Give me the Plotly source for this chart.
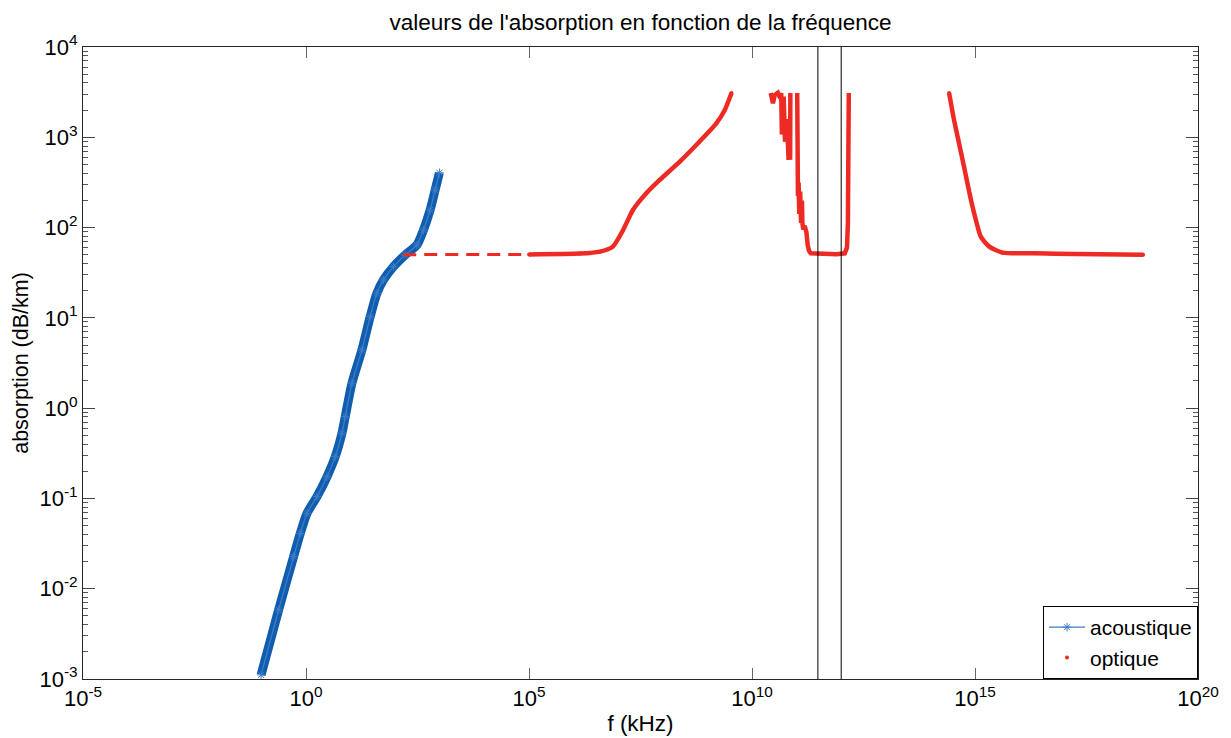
import numpy as np
import plotly.graph_objects as go

# ---- data (log10 of values) ----
# acoustic absorption: log10 f (kHz), log10 absorption (dB/km)
acou_logf = [-1.007, -0.613, -0.278, -0.128, 0.022, 0.246, 0.470, 0.656, 0.806, 0.880, 1.030,
             1.254, 1.439, 1.589, 1.737, 1.961, 2.223, 2.485, 2.633, 2.783, 2.895, 2.991]
acou_loga = [-2.955, -2.233, -1.645, -1.387, -1.165, -0.980, -0.760, -0.537, -0.278, -0.094, 0.276,
             0.645, 1.013, 1.272, 1.420, 1.567, 1.697, 1.807, 1.973, 2.195, 2.416, 2.607]

# optical absorption, sparse low-frequency plateau
opt1_logf = [2.18, 5.0]
opt1_loga = [1.70, 1.703]

# optical absorption, smooth parts (None = no data / above 3000 dB/km)
opt2_logf = [5.0, 6.14, 6.59, 6.88, 7.11, 7.33, 7.63, 7.93, 8.38, 8.82, 9.20, 9.39, 9.54,
             None,
             14.42, 14.53, 14.69, 14.80, 14.91, 15.02, 15.13, 15.32, 15.62, 16.36, 17.26, 18.77]
opt2_loga = [1.703, 1.712, 1.733, 1.789, 1.973, 2.195, 2.38, 2.527, 2.73, 2.951, 3.155, 3.302, 3.49,
             None,
             3.49, 3.192, 2.823, 2.564, 2.306, 2.084, 1.899, 1.789, 1.722, 1.715, 1.708, 1.70]

# optical absorption, jagged part between 1e10 and 1e13 kHz
opt3_logf = [10.42, 10.47, 10.51, 10.58, 10.63, 10.655, 10.67, 10.71, 10.74, 10.77, 10.80, 10.82,
             10.83, 10.855, 10.86,
             None,
             11.014, 11.02, 11.03, 11.045, 11.06, 11.08, 11.10, 11.12, 11.13, 11.15, 11.18, 11.22,
             11.25, 11.28, 11.32, 11.6, 11.9, 12.08, 12.13, 12.15, 12.165, 12.17]
opt3_loga = [3.49, 3.377, 3.468, 3.494, 3.435, 3.49, 3.03, 3.45, 2.95, 3.20, 3.007, 2.75,
             3.0, 2.75, 3.49,
             None,
             3.49, 2.53, 2.35, 2.50, 2.15, 2.40, 2.05, 2.30, 2.05, 1.98, 2.02, 1.95,
             1.80, 1.74, 1.715, 1.71, 1.705, 1.715, 1.78, 2.05, 2.6, 3.49]

# vertical markers (kHz)
band_f = [3e11, 1e12]
y_span = [1e-3, 1e4]

x_tickvals = [1e-5, 1e0, 1e5, 1e10, 1e15, 1e20]
x_ticktext = ['10<sup>-5</sup>', '10<sup>0</sup>', '10<sup>5</sup>', '10<sup>10</sup>',
              '10<sup>15</sup>', '10<sup>20</sup>']
y_tickvals = [1e-3, 1e-2, 1e-1, 1e0, 1e1, 1e2, 1e3, 1e4]
y_ticktext = ['10<sup>-3</sup>', '10<sup>-2</sup>', '10<sup>-1</sup>', '10<sup>0</sup>',
              '10<sup>1</sup>', '10<sup>2</sup>', '10<sup>3</sup>', '10<sup>4</sup>']


def pw(v):
    return [None if a is None else 10 ** a for a in v]


BLUE = '#105DB0'
RED = '#EE2A24'
FONT = 'Liberation Sans, Arial, sans-serif'

fig = go.Figure()

# acoustic: thick band + thin legend line with star markers
fig.add_trace(go.Scatter(x=pw(acou_logf), y=pw(acou_loga), mode='lines',
                         line=dict(color=BLUE, width=9, shape='spline', smoothing=0.7),
                         showlegend=False, hoverinfo='skip'))
fig.add_trace(go.Scatter(x=pw(acou_logf), y=pw(acou_loga), mode='lines+markers', name='acoustique',
                         line=dict(color='#3E7DC4', width=1.3, shape='spline', smoothing=0.7),
                         marker=dict(symbol='asterisk-open', size=7, color='#3E7DC4',
                                     line=dict(color='#3E7DC4', width=1))))

# optical
fig.add_trace(go.Scatter(x=pw(opt1_logf), y=pw(opt1_loga), mode='lines',
                         line=dict(color=RED, width=3, dash='13px,8px'),
                         showlegend=False, hoverinfo='skip'))
fig.add_trace(go.Scatter(x=pw(opt2_logf), y=pw(opt2_loga), mode='lines',
                         line=dict(color=RED, width=4.5, shape='spline', smoothing=0.6),
                         showlegend=False, hoverinfo='skip', connectgaps=False))
fig.add_trace(go.Scatter(x=pw(opt3_logf), y=pw(opt3_loga), mode='lines',
                         line=dict(color=RED, width=4.5),
                         showlegend=False, hoverinfo='skip', connectgaps=False))
fig.add_trace(go.Scatter(x=pw(opt2_logf), y=pw(opt2_loga), mode='markers', name='optique',
                         marker=dict(symbol='circle', size=4, color=RED)))

for f in band_f:
    fig.add_trace(go.Scatter(x=[f, f], y=y_span, mode='lines',
                             line=dict(color='black', width=1),
                             showlegend=False, hoverinfo='skip'))

minor_y = [m * 10.0 ** e for e in range(-3, 4) for m in range(2, 10)]

fig.update_layout(
    width=1231, height=738,
    margin=dict(l=83, r=33, t=47, b=59),
    paper_bgcolor='white', plot_bgcolor='white',
    font=dict(family=FONT, size=22, color='black'),
    title=dict(text="valeurs de l'absorption en fonction de la fréquence",
               x=0.5, xref='paper', xanchor='center', y=0.97, yref='container', yanchor='middle',
               font=dict(size=22.5)),
    showlegend=True,
    legend=dict(x=1, y=0, xanchor='right', yanchor='bottom', bordercolor='black', borderwidth=1,
                bgcolor='white', font=dict(size=21), itemwidth=36, tracegroupgap=0),
    xaxis=dict(type='log', range=[-5, 20], tickmode='array', tickvals=x_tickvals, ticktext=x_ticktext,
               ticks='inside', ticklen=11, tickcolor='#666', showline=True, linecolor='#262626',
               linewidth=1, mirror='ticks', showgrid=False, zeroline=False, automargin=False,
               tickfont=dict(size=22),
               title=dict(text='f (kHz)', standoff=4, font=dict(size=22.5))),
    yaxis=dict(type='log', range=[-3, 4], tickmode='array', tickvals=y_tickvals, ticktext=y_ticktext,
               ticks='inside', ticklen=12, tickcolor='#444', showline=True, linecolor='#262626',
               linewidth=1, mirror='ticks', showgrid=False, zeroline=False, automargin=False,
               tickfont=dict(size=22),
               minor=dict(tickmode='array', tickvals=minor_y, ticks='inside', ticklen=5,
                          tickcolor='#555', showgrid=False),
               title=dict(text='absorption (dB/km)', standoff=4, font=dict(size=21.5))),
)

fig.write_html('out.html', config={'displayModeBar': False},
               post_script="document.body.style.margin='0px';document.body.style.overflow='hidden';")
